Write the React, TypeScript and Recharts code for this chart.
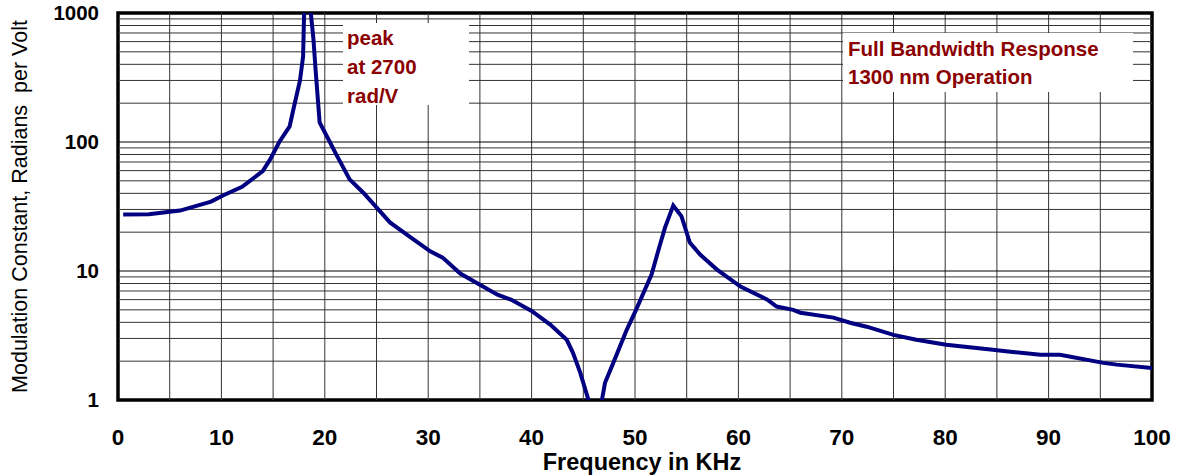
import React from 'react';
import {
  LineChart,
  Line,
  XAxis,
  YAxis,
  ReferenceLine,
  ReferenceArea,
} from 'recharts';

// frequency in KHz
const freq = [
  0.5, 3, 6, 9, 10.2, 12, 14, 14.7, 15.6, 16.6, 16.9, 17.6, 17.9, 18.0, 18.2, 18.5,
  18.9, 19.1, 19.5, 20.5, 21.0, 22.4, 23.7, 25.0, 26.3, 28.2, 30.2, 31.4, 33.1, 35.0,
  36.7, 38.0, 40.0, 41.8, 43.4, 44.0, 44.7, 45.5, 45.9, 46.4, 46.8, 47.1, 47.9, 49.2,
  50.1, 51.6, 52.2, 52.9, 53.7, 54.5, 55.3, 56.3, 57.9, 60.2, 62.8, 63.7, 65.3, 66.0,
  69.2, 70.8, 72.4, 75.0, 77.2, 80.1, 84.6, 86.3, 89.2, 91.1, 95.3, 96.6, 100,
];

// modulation constant, rad/V
const modConst = [
  27.4, 27.5, 29.4, 34.5, 38.7, 45, 59.5, 73, 100, 132, 170, 300, 460, 1000, 2700, 1300,
  630, 370, 142, 99.5, 83, 51.3, 40.6, 31.1, 23.8, 18.5, 14.2, 12.7, 9.55, 7.84,
  6.56, 6.0, 4.9, 3.84, 2.93, 2.32, 1.63, 1.0, 0.6, 0.6, 1.0, 1.36, 1.94, 3.5,
  5.0, 9.4, 13.9, 21.7, 32.2, 26.5, 16.6, 13.4, 10.3, 7.57, 6.0, 5.3, 5.0, 4.75,
  4.35, 3.97, 3.7, 3.2, 2.93, 2.68, 2.45, 2.37, 2.24, 2.24, 1.94, 1.88, 1.77,
];

const xTicks = [0, 10, 20, 30, 40, 50, 60, 70, 80, 90, 100];
const yTicks = [1, 10, 100, 1000];
const xGrid = [5, 10, 15, 20, 25, 30, 35, 40, 45, 50, 55, 60, 65, 70, 75, 80, 85, 90, 95];
const yGrid = [
  2, 3, 4, 5, 6, 7, 8, 9, 10,
  20, 30, 40, 50, 60, 70, 80, 90, 100,
  200, 300, 400, 500, 600, 700, 800, 900,
];

const data = freq.map((f, i) => ({ f, v: modConst[i] }));

const FONT = '"Liberation Sans", Arial, sans-serif';
const RED = '#8B0000';

const boxText: React.CSSProperties = {
  position: 'absolute',
  background: '#fff',
  color: RED,
  fontFamily: FONT,
  fontWeight: 'bold',
  whiteSpace: 'nowrap',
  boxSizing: 'border-box',
};

export default function App() {
  return (
    <div style={{ position: 'absolute', left: 0, top: 0, width: 1177, height: 476, background: '#fff' }}>
      <LineChart
        width={1177}
        height={476}
        data={data}
        margin={{ top: 13, right: 25, bottom: 0, left: 0 }}
      >
        <XAxis
          dataKey="f"
          type="number"
          domain={[0, 100]}
          ticks={xTicks}
          allowDataOverflow
          axisLine={false}
          tickLine={false}
          tickSize={0}
          tickMargin={29}
          height={76}
          tick={{ fill: '#000', fontSize: 22.5, fontWeight: 'bold', fontFamily: FONT }}
          label={{
            content: ({ viewBox }: any) => (
              <text
                x={viewBox.x + viewBox.width / 2 + 7}
                y={470}
                textAnchor="middle"
                fill="#000"
                fontSize={23.5}
                fontWeight="bold"
                fontFamily={FONT}
              >
                Frequency in KHz
              </text>
            ),
          }}
        />
        <YAxis
          type="number"
          scale="log"
          domain={[1, 1000]}
          ticks={yTicks}
          allowDataOverflow
          axisLine={false}
          tickLine={false}
          tickSize={0}
          tickMargin={19}
          width={118}
          tick={{ fill: '#000', fontSize: 20.5, fontWeight: 'bold', fontFamily: FONT }}
          label={{
            content: ({ viewBox }: any) => {
              const cy = viewBox.y + viewBox.height / 2;
              return (
                <text
                  x={27}
                  y={cy}
                  transform={`rotate(-90, 27, ${cy})`}
                  textAnchor="middle"
                  fill="#000"
                  fontSize={21.5}
                  fontFamily={FONT}
                  style={{ whiteSpace: 'pre' }}
                >
                  {'Modulation Constant, Radians  per Volt'}
                </text>
              );
            },
          }}
        />
        {xGrid.map((x) => (
          <ReferenceLine key={`gx${x}`} x={x} stroke="#333" strokeWidth={1} />
        ))}
        {yGrid.map((y) => (
          <ReferenceLine
            key={`gy${y}`}
            y={y}
            stroke={y === 10 || y === 100 ? '#000' : '#333'}
            strokeWidth={1}
          />
        ))}
        <Line
          type="linear"
          dataKey="v"
          stroke="#000080"
          strokeWidth={4}
          dot={false}
          isAnimationActive={false}
        />
        <ReferenceArea
          x1={0}
          x2={100}
          y1={1}
          y2={1000}
          fill="none"
          stroke="#000"
          strokeWidth={3.5}
          ifOverflow="visible"
        />
      </LineChart>
      <div
        style={{
          ...boxText,
          left: 343,
          top: 23,
          width: 126,
          height: 82,
          paddingLeft: 4,
          fontSize: 20.5,
          lineHeight: '29px',
        }}
      >
        peak
        <br />
        at 2700
        <br />
        rad/V
      </div>
      <div
        style={{
          ...boxText,
          left: 843,
          top: 33,
          width: 290,
          height: 59,
          paddingLeft: 5,
          paddingTop: 2,
          fontSize: 20.5,
          lineHeight: '28px',
        }}
      >
        Full Bandwidth Response
        <br />
        1300 nm Operation
      </div>
    </div>
  );
}
